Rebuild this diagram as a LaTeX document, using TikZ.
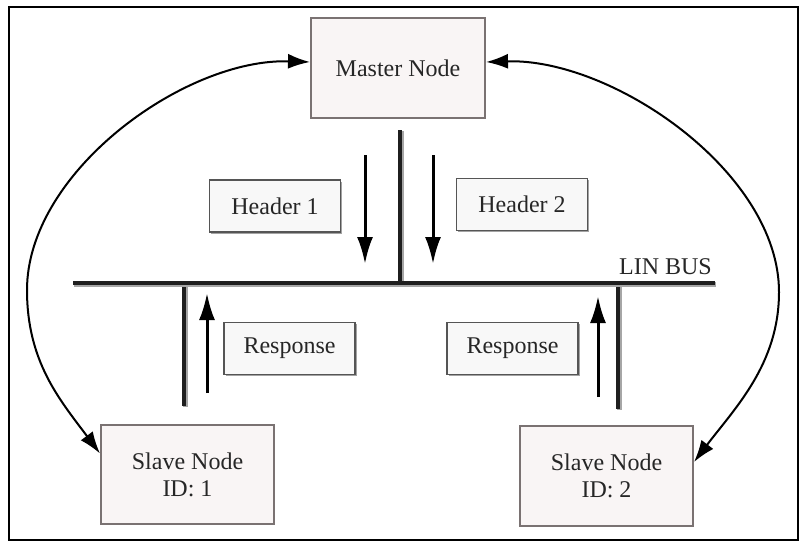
\documentclass[tikz,border=0pt]{standalone}
\usepackage{fontspec}
\setmainfont{Liberation Serif}
\usetikzlibrary{arrows.meta,shadows}
\definecolor{nodefill}{HTML}{F9F5F5}
\definecolor{nodedraw}{HTML}{7A7272}
\definecolor{labfill}{HTML}{F8F8F8}
\definecolor{labdraw}{HTML}{555555}
\begin{document}
\begin{tikzpicture}[x=1pt,y=-1pt,
  txt/.style={font=\fontsize{24}{27}\selectfont, text=black!85},
  unitbox/.style={txt, draw=nodedraw, fill=nodefill, line width=2pt, rectangle, inner sep=0pt, align=center},
  labbox/.style={txt, draw=labdraw, fill=labfill, line width=1.6pt, rectangle, inner sep=0pt,
    minimum width=131pt, minimum height=52pt,
    drop shadow={shadow xshift=1.5pt, shadow yshift=-1.5pt, fill=black!45, opacity=0.8}},
  busline/.style={line width=3.2pt, draw=black!88,
    preaction={draw=black!35, line width=5pt, transform canvas={shift={(1pt,-1.2pt)}}}},
  flow/.style={line width=3pt, -{Latex[length=27pt,width=16pt]}},
  link/.style={line width=2pt, {Latex[length=22pt,width=15pt]}-{Latex[length=22pt,width=15pt]}}
]
\useasboundingbox (0,0) rectangle (809,547);
\draw[line width=2.6pt] (9,7) rectangle (798,540);

% nodes
\node[unitbox, minimum width=174pt, minimum height=100pt] (master) at (398,68) {Master Node};
\node[unitbox, minimum width=173pt, minimum height=99pt] (slave1) at (187.5,474.5) {Slave Node\\ID: 1};
\node[unitbox, minimum width=173pt, minimum height=100pt] (slave2) at (606.5,476) {Slave Node\\ID: 2};

\node[labbox] (h1) at (275,206) {Header 1};
\node[labbox] (h2) at (522,204.5) {Header 2};
\node[labbox] (r1) at (289.5,348.5) {Response};
\node[labbox] (r2) at (512.5,348.5) {Response};

% bus
\coordinate (busL) at (73,283);
\coordinate (busR) at (715,283);
\coordinate (mtop) at (400,130);
\coordinate (mbot) at (400,283);
\coordinate (s1top) at (184,283);
\coordinate (s1bot) at (184,406);
\coordinate (s2top) at (618,285);
\coordinate (s2bot) at (618,409);
\draw[busline] (mtop) -- (mbot);
\draw[busline] (s1top) -- (s1bot);
\draw[busline] (s2top) -- (s2bot);
\draw[busline] (busL) -- (busR);
\node[txt, anchor=base east, inner sep=0pt] (lin) at (712,274) {LIN BUS};

% flow arrows
\coordinate (h1a) at (365,155); \coordinate (h1b) at (365,264);
\coordinate (h2a) at (433,155); \coordinate (h2b) at (433,264);
\coordinate (r1a) at (207,393); \coordinate (r1b) at (207,293);
\coordinate (r2a) at (598,397); \coordinate (r2b) at (598,296);
\draw[flow] (h1a) -- (h1b);
\draw[flow] (h2a) -- (h2b);
\draw[flow] (r1a) -- (r1b);
\draw[flow] (r2a) -- (r2b);

% curved links
\coordinate (lmid) at (27,290);
\coordinate (rmid) at (779,292);
\draw[link] ([yshift=21pt]slave1.west) .. controls (60,400) and (27,362) .. (lmid)
  .. controls (27,172) and (185,58) .. ([yshift=6pt]master.west);
\draw[link] ([yshift=14pt]slave2.east) .. controls (735,408) and (779,364) .. (rmid)
  .. controls (779,172) and (612,58) .. ([yshift=6pt]master.east);
\end{tikzpicture}
\end{document}
